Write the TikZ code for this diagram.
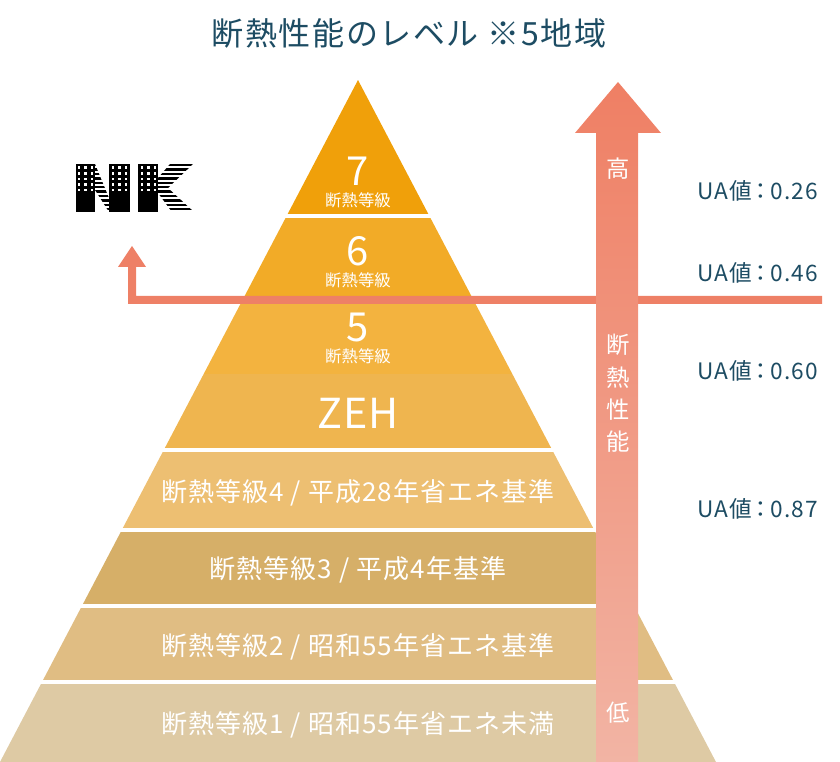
\documentclass[tikz,border=0pt]{standalone}
\usepackage{fontspec}
\setmainfont{Noto Sans CJK JP}
\newfontfamily\titlefont[LetterSpace=5]{Noto Sans CJK JP}
\newfontfamily\bandfont[LetterSpace=4.3]{Noto Sans CJK JP}
\newfontfamily\zehfont[LetterSpace=2]{Noto Sans CJK JP}
\newfontfamily\uafont[LetterSpace=5]{Noto Sans CJK JP}
\definecolor{titleblue}{HTML}{1D4C63}
\definecolor{linered}{HTML}{EE8066}
\definecolor{arrowtop}{HTML}{EF7F64}
\definecolor{arrowlow}{HTML}{F2B4A4}
\definecolor{lvlseven}{HTML}{F0A00A}
\definecolor{lvlsix}{HTML}{F2AB27}
\definecolor{lvlfive}{HTML}{F3B33F}
\definecolor{lvlzeh}{HTML}{EFB54F}
\definecolor{lvlfour}{HTML}{EDBF72}
\definecolor{lvlthree}{HTML}{D6AF68}
\definecolor{lvltwo}{HTML}{E0BD83}
\definecolor{lvlone}{HTML}{DECAA4}
\tikzset{
    bandtext/.style={text=white, font=\bandfont\fontsize{19.5}{19.5}\selectfont},
    gradetext/.style={text=white, font=\fontsize{12.3}{12.3}\selectfont},
    gradenum/.style={text=white, font=\fontsize{30}{30}\selectfont},
    uatext/.style={text=titleblue, anchor=west, font=\uafont\fontsize{17}{17}\selectfont},
    arrowtext/.style={text=white, font=\fontsize{17.5}{17.5}\selectfont},
}
\newcommand{\band}[3]{\fill[#1] (0,#2) rectangle (840,#3);}
\newcommand{\uaval}[1]{UA値\hspace{-0.12em}：\hspace{-0.07em}#1}

\begin{document}
\begin{tikzpicture}[x=0.75pt, y=-0.75pt]
    \useasboundingbox (0,0) rectangle (840,762);
    % Title
    \node[text=titleblue, font=\titlefont\fontsize{24}{24}\selectfont] (title) at (409,33) {断熱性能のレベル ※5地域};
    % Pyramid
    \begin{scope}
        \clip (358,80) -- (716,762) -- (0,762) -- cycle;
        \band{lvlseven}{80}{214}
        \band{lvlsix}{218}{300}
        \band{lvlfive}{300}{374}
        \band{lvlzeh}{374}{448}
        \band{lvlfour}{452}{528}
        \band{lvlthree}{532}{604}
        \band{lvltwo}{608}{680}
        \band{lvlone}{684}{762}
    \end{scope}
    % Grades
    \node[gradenum] (seven) at (358,171) {7};
    \node[gradetext] (sevenlbl) at (358,200) {断熱等級};
    \node[gradenum] (six) at (358,251) {6};
    \node[gradetext] (sixlbl) at (358,280) {断熱等級};
    \node[gradenum] (five) at (358,328) {5};
    \node[gradetext] (fivelbl) at (358,356) {断熱等級};
    \node[text=white, font=\zehfont\fontsize{31}{31}\selectfont] (zeh) at (358,413) {ZEH};
    \node[bandtext] (four) at (358,493) {断熱等級4 / 平成28年省エネ基準};
    \node[bandtext] (three) at (358,570) {断熱等級3 / 平成4年基準};
    \node[bandtext] (two) at (358,647) {断熱等級2 / 昭和55年省エネ基準};
    \node[bandtext] (one) at (358,725) {断熱等級1 / 昭和55年省エネ未満};
    % Current level line
    \fill[linered] (822,296) -- (136,296) -- (136,267) -- (146,267) -- (132,246) -- (118,267) -- (128,267) -- (128,304) -- (822,304) -- cycle;
    % Performance arrow
    \shade[top color=arrowtop, bottom color=arrowlow] (618,82) -- (661,133) -- (638,133) -- (638,762) -- (596,762) -- (596,133) -- (575,133) -- cycle;
    \node[arrowtext] (high) at (618,169) {高};
    \node[arrowtext] (perfa) at (618,345) {断};
    \node[arrowtext] (perfb) at (618,378) {熱};
    \node[arrowtext] (perfc) at (618,410) {性};
    \node[arrowtext] (perfd) at (618,442) {能};
    \node[arrowtext] (low) at (618,713) {低};
    % UA values
    \node[uatext] (uaa) at (693,191) {\uaval{0.26}};
    \node[uatext] (uab) at (693,273) {\uaval{0.46}};
    \node[uatext] (uac) at (693,371) {\uaval{0.60}};
    \node[uatext] (uad) at (693,509) {\uaval{0.87}};
    % Logo N
    \fill (76,164) rectangle (95,212);
    \fill (109,164) rectangle (130,212);
    \fill (138,164) rectangle (158,212);
    \foreach \bx in {77.8,111.8,140.8}{
        \foreach \wx in {0,6.6,13}{
            \foreach \wy in {166.5,172.2,177.8,183.5,189.1}{
                \fill[white] (\bx+\wx,\wy) rectangle (\bx+\wx+2.4,\wy+2.4);
            }
        }
    }
    \begin{scope}
        \clip (95,164) -- (109,198) -- (109,212) -- (95,190) -- cycle;
        \foreach \sy in {164,168.4,...,212}{
            \fill (90,\sy) rectangle (115,\sy+2.4);
        }
    \end{scope}
    % Logo K
    \begin{scope}
        \clip (158,178) -- (170,164) -- (193,164) -- (168,188) -- (194,212) -- (172,212) -- (158,193) -- cycle;
        \foreach \sy in {164,168.4,...,212}{
            \fill (155,\sy) rectangle (196,\sy+2.4);
        }
    \end{scope}
\end{tikzpicture}
\end{document}
